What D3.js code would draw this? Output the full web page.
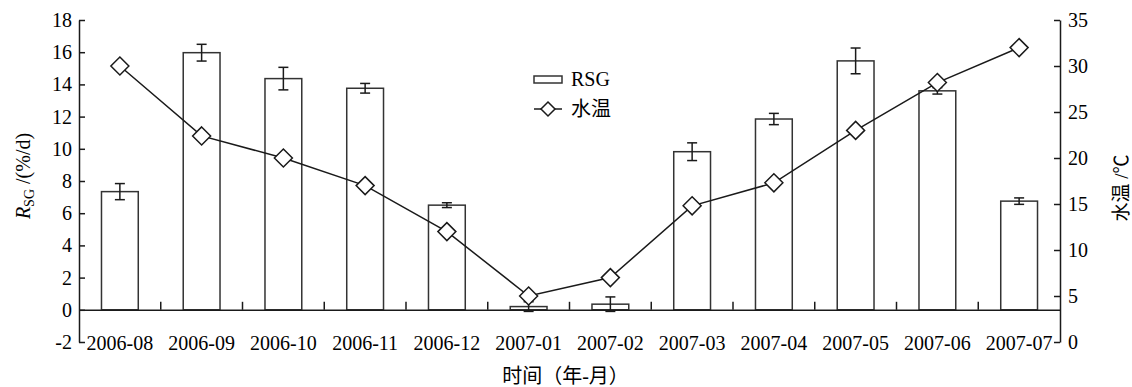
<!DOCTYPE html>
<html>
<head>
<meta charset="utf-8">
<script src="https://cdn.jsdelivr.net/npm/d3@7"></script>
<style>
  body { margin: 0; background: #fff; }
  svg { display: block; }
  svg text { font-family: "Liberation Serif", "Times New Roman", "Noto Sans CJK SC", serif; }
</style>
</head>
<body>
<svg id="chart" width="1132" height="387"></svg>
<script>
// Data
const months = ["2006-08", "2006-09", "2006-10", "2006-11", "2006-12", "2007-01",
                "2007-02", "2007-03", "2007-04", "2007-05", "2007-06", "2007-07"];
const rsg = [7.34, 15.97, 14.36, 13.76, 6.5, 0.2, 0.35, 9.82, 11.85, 15.46, 13.6, 6.75];
const rsgErr = [0.5, 0.52, 0.7, 0.3, 0.15, 0.3, 0.45, 0.55, 0.35, 0.8, 0.2, 0.2];
const waterTemp = [30, 22.4, 20, 17, 12, 5, 7, 14.8, 17.3, 23, 28.2, 32];
const leftTicks = [-2, 0, 2, 4, 6, 8, 10, 12, 14, 16, 18];
const rightTicks = [0, 5, 10, 15, 20, 25, 30, 35];

const svg = d3.select("#chart"),
    margin = { top: 20, right: 72, bottom: 45, left: 79 },
    width = +svg.attr("width"),
    height = +svg.attr("height"),
    x0 = margin.left,
    x1 = width - margin.right,
    yTop = margin.top,
    yBot = height - margin.bottom;

const ink = "#1a1a1a";
const serif = '"Liberation Serif", "Times New Roman", serif';

// Scales
const x = d3.scaleBand()
    .domain(months)
    .range([x0, x1])
    .paddingInner(0.55)
    .paddingOuter(0.275);

const yL = d3.scaleLinear().domain([-2, 18]).range([yBot, yTop]);
const yR = d3.scaleLinear().domain([0, 35]).range([yBot, yTop]);

const cx = d => x(d) + x.bandwidth() / 2;

// Bars
svg.append("g")
    .selectAll("rect")
    .data(months)
    .join("rect")
    .attr("x", d => x(d))
    .attr("y", (d, i) => yL(rsg[i]))
    .attr("width", x.bandwidth())
    .attr("height", (d, i) => yL(0) - yL(rsg[i]))
    .attr("fill", "#fff")
    .attr("stroke", "#333")
    .attr("stroke-width", 1.5);

// Error bars
const err = svg.append("g")
    .attr("stroke", ink)
    .attr("stroke-width", 1.5);

months.forEach((m, i) => {
    const c = cx(m), hi = yL(rsg[i] + rsgErr[i]), lo = yL(rsg[i] - rsgErr[i]);
    err.append("line").attr("x1", c).attr("x2", c).attr("y1", hi).attr("y2", lo);
    err.append("line").attr("x1", c - 5).attr("x2", c + 5).attr("y1", hi).attr("y2", hi);
    err.append("line").attr("x1", c - 5).attr("x2", c + 5).attr("y1", lo).attr("y2", lo);
});

function styleAxis(g) {
    g.select(".domain").attr("stroke", ink).attr("stroke-width", 1.5);
    g.selectAll(".tick line").attr("stroke", ink).attr("stroke-width", 1.5);
    g.selectAll("text")
        .attr("font-size", 20)
        .style("font-family", serif)
        .attr("fill", "#000");
}

// X axis line at zero with labels below
const xAxis = svg.append("g")
    .attr("transform", `translate(0,${yL(0)})`)
    .call(d3.axisBottom(x).tickSize(0).tickPadding(26));
styleAxis(xAxis);

// Category separator ticks (pointing up)
svg.append("g")
    .selectAll("line")
    .data(d3.range(1, months.length))
    .join("line")
    .attr("x1", i => x0 + i * x.step())
    .attr("x2", i => x0 + i * x.step())
    .attr("y1", yL(0))
    .attr("y2", yL(0) - 8)
    .attr("stroke", ink)
    .attr("stroke-width", 1.5);

// Left axis
const axL = svg.append("g")
    .attr("transform", `translate(${x0},0)`)
    .call(d3.axisLeft(yL).tickValues(leftTicks).tickFormat(d => String(d))
        .tickSizeInner(-6).tickSizeOuter(0).tickPadding(7));
styleAxis(axL);

// Right axis
const axR = svg.append("g")
    .attr("transform", `translate(${x1},0)`)
    .call(d3.axisRight(yR).tickValues(rightTicks).tickFormat(d => String(d))
        .tickSizeInner(-6).tickSizeOuter(0).tickPadding(8));
styleAxis(axR);

// Water temperature line
const line = d3.line()
    .x((d, i) => cx(months[i]))
    .y(d => yR(d));

svg.append("path")
    .datum(waterTemp)
    .attr("d", line)
    .attr("fill", "none")
    .attr("stroke", ink)
    .attr("stroke-width", 1.5);

const diamond = r => `M0,${-r}L${r},0L0,${r}L${-r},0Z`;

svg.append("g")
    .selectAll("path")
    .data(waterTemp)
    .join("path")
    .attr("transform", (d, i) => `translate(${cx(months[i])},${yR(d)})`)
    .attr("d", diamond(9))
    .attr("fill", "#fff")
    .attr("stroke", ink)
    .attr("stroke-width", 1.5);

// Legend
const legend = svg.append("g").attr("transform", "translate(534,76)");
legend.append("rect")
    .attr("width", 28).attr("height", 7)
    .attr("fill", "#fff").attr("stroke", "#333").attr("stroke-width", 1.5);
legend.append("text")
    .attr("x", 37).attr("y", 10)
    .attr("font-size", 20)
    .text("RSG");
legend.append("line")
    .attr("x1", 0).attr("x2", 28).attr("y1", 33).attr("y2", 33)
    .attr("stroke", ink).attr("stroke-width", 1.5);
legend.append("path")
    .attr("transform", "translate(14,33)")
    .attr("d", diamond(7))
    .attr("fill", "#fff").attr("stroke", ink).attr("stroke-width", 1.5);
legend.append("text")
    .attr("x", 37).attr("y", 40)
    .attr("font-size", 20)
    .text("水温");

// Axis titles
const yLabel = svg.append("text")
    .attr("transform", "translate(30,176) rotate(-90)")
    .attr("text-anchor", "middle")
    .attr("font-size", 20);
yLabel.append("tspan").attr("font-style", "italic").text("R");
yLabel.append("tspan").attr("font-size", 14).attr("dy", 4).text("SG");
yLabel.append("tspan").attr("dy", -4).text(" /(%/d)");

svg.append("text")
    .attr("transform", "translate(1128,188) rotate(-90)")
    .attr("text-anchor", "middle")
    .attr("font-size", 19)
    .text("水温 /℃");

svg.append("text")
    .attr("x", (x0 + x1) / 2 - 4)
    .attr("y", 383)
    .attr("text-anchor", "middle")
    .attr("font-size", 20)
    .text("时间（年-月）");
</script>
</body>
</html>
